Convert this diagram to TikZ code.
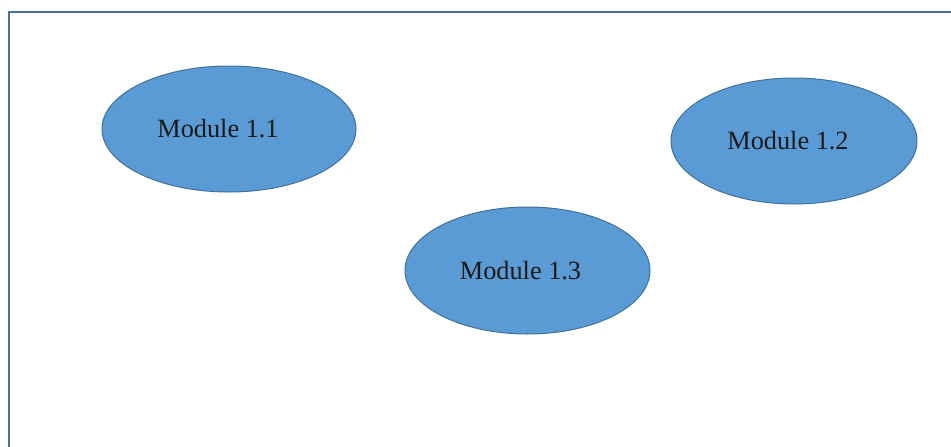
\documentclass[tikz,border=0pt]{standalone}
\usepackage{fontspec}
\setmainfont{Liberation Serif}
\usetikzlibrary{shapes.geometric}
\definecolor{modfill}{HTML}{5B9BD5}
\definecolor{moddraw}{HTML}{41719C}
\definecolor{frameblue}{HTML}{4A72A0}
\tikzset{
  module/.style={ellipse, fill=modfill, draw=moddraw, line width=1pt, inner sep=0pt},
  modlabel/.style={font=\fontsize{26.3}{28}\selectfont, text=black!90, inner sep=0pt},
}
\begin{document}
\begin{tikzpicture}[x=1pt,y=-1pt]
\useasboundingbox (0,0) rectangle (951,447);
\fill[white] (0,0) rectangle (951,447);
\coordinate (fb) at (9,447);
\coordinate (fc) at (9,12);
\coordinate (fr) at (951,12);
\draw[frameblue, line width=2pt] (fb) -- (fc) -- (fr);
\node[module, minimum width=254pt, minimum height=126pt] (m11) at (229,129) {};
\node[module, minimum width=246pt, minimum height=126pt] (m12) at (794,141) {};
\node[module, minimum width=245pt, minimum height=127pt] (m13) at (527.5,270.5) {};
\node[modlabel] (t11) at ([xshift=-11pt]m11.center) {Module 1.1};
\node[modlabel] (t12) at ([xshift=-6pt]m12.center) {Module 1.2};
\node[modlabel] (t13) at ([xshift=-7pt]m13.center) {Module 1.3};
\end{tikzpicture}
\end{document}
